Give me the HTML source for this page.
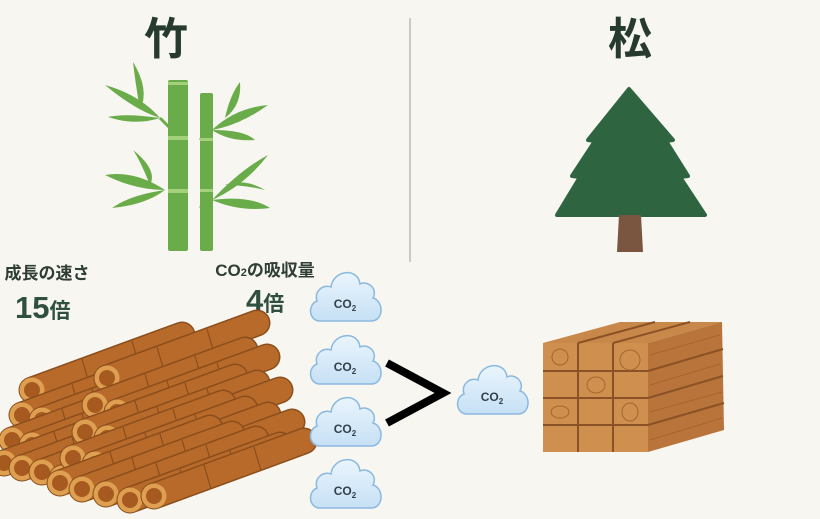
<!DOCTYPE html>
<html><head><meta charset="utf-8"><style>
html,body{margin:0;padding:0;background:#f8f6f1;}
svg{display:block}
text{font-family:"Liberation Sans","Noto Sans CJK JP",sans-serif;font-weight:bold}
</style></head><body>
<svg width="820" height="519" viewBox="0 0 820 519" xmlns="http://www.w3.org/2000/svg">
<defs>
<linearGradient id="cg" x1="0" y1="0" x2="0" y2="1"><stop offset="0" stop-color="#eaf5fd"/><stop offset="1" stop-color="#c6e0f5"/></linearGradient>
<g id="cloud"><path d="M12,56 C1,56 -1,40 9,36 C6,26 15,19 23,22 C25,5 50,2 52,19 C60,15 70,24 65,33 C76,36 76,56 63,56 Z" fill="url(#cg)" stroke="#8ab9df" stroke-width="1.5"/></g>
<g id="log"><line x1="0" y1="0" x2="150" y2="-55" stroke="#8a4e1c" stroke-width="27" stroke-linecap="round"/><line x1="0" y1="0" x2="150" y2="-55" stroke="#b86a2b" stroke-width="24" stroke-linecap="round"/><line x1="50" y1="-31" x2="57" y2="-7" stroke="#8a4e1c" stroke-width="1.2"/><line x1="100" y1="-49" x2="107" y2="-25" stroke="#8a4e1c" stroke-width="1.2"/><circle r="12.5" fill="#dea050"/><circle r="8" fill="#a65a1f"/></g>
</defs>
<rect width="820" height="519" fill="#f8f6f1"/>
<line x1="410" y1="18" x2="410" y2="262" stroke="#c9c9c6" stroke-width="2"/>
<text x="166" y="54" font-size="44" text-anchor="middle" fill="#263a2e">竹</text>
<text x="630" y="54" font-size="44" text-anchor="middle" fill="#263a2e">松</text>
<!-- bamboo -->
<g fill="#6aab4a">
<path d="M160,118 Q140,95 105,85 Q135,110 160,118Z"/>
<path d="M160,118 Q125,113 108,117 Q135,126 160,118Z"/>
<path d="M170,128 L160,118" stroke="#6aab4a" stroke-width="3"/>
<path d="M140,110 Q135,80 133,62 Q150,90 140,110Z"/>
<path d="M165,190 Q135,170 105,175 Q135,190 165,190Z"/>
<path d="M165,190 Q130,195 112,208 Q145,205 165,190Z"/>
<path d="M150,185 Q140,160 133,150 Q158,170 150,185Z"/>
<path d="M212,130 Q235,108 268,105 Q240,125 212,130Z"/>
<path d="M212,130 Q245,130 255,140 Q230,142 212,130Z"/>
<path d="M225,118 Q230,95 240,82 Q242,105 225,118Z"/>
<path d="M212,200 Q240,170 268,155 Q245,185 212,200Z"/>
<path d="M212,200 Q250,195 270,208 Q240,212 212,200Z"/>
<path d="M225,185 Q245,185 265,190 Q245,178 225,185Z"/>
<path d="M212,130 L200,140 M212,200 L200,208" stroke="#6aab4a" stroke-width="3"/>
<rect x="168" y="80" width="20" height="171" rx="2"/>
<rect x="200" y="93" width="13" height="158" rx="2"/>
</g>
<g fill="#a5d07b"><rect x="168" y="82" width="20" height="3"/><rect x="168" y="136" width="20" height="4"/><rect x="168" y="189" width="20" height="4"/><rect x="200" y="138" width="13" height="3"/><rect x="200" y="189" width="13" height="3"/></g>
<!-- tree -->
<path d="M629,89 L673,140 L666,141 L688,176 L680,177 L705,215 L557,215 L580,177 L572,176 L595,141 L588,140 Z" fill="#2e6440" stroke="#2e6440" stroke-width="4" stroke-linejoin="round"/>
<path d="M619,215 L641,215 L643,252 L617,252 Z" fill="#7a5540"/>
<!-- labels -->
<text x="47" y="279" font-size="17" text-anchor="middle" fill="#2f3e35">成長の速さ</text>
<text x="15" y="318" font-size="31" fill="#2f5040">15<tspan font-size="21">倍</tspan></text>
<text x="265" y="276" font-size="17" text-anchor="middle" fill="#2f3e35">CO<tspan font-size="11">2</tspan>の吸収量</text>
<text x="246" y="311" font-size="31" fill="#2f5040">4<tspan font-size="21">倍</tspan></text>
<!-- logs pile A (back left) -->
<g>
<use href="#log" x="32" y="390"/>
<use href="#log" x="22" y="415"/><use href="#log" x="42" y="420"/>
<use href="#log" x="12" y="440"/><use href="#log" x="32" y="445"/><use href="#log" x="52" y="450"/>
<use href="#log" x="4" y="463"/><use href="#log" x="22" y="468"/><use href="#log" x="42" y="472"/><use href="#log" x="62" y="478"/>
</g>
<!-- pile B -->
<g>
<use href="#log" x="107" y="378"/>
<use href="#log" x="95" y="405"/><use href="#log" x="117" y="412"/>
<use href="#log" x="85" y="432"/><use href="#log" x="107" y="438"/><use href="#log" x="130" y="445"/>
<use href="#log" x="73" y="458"/><use href="#log" x="95" y="464"/><use href="#log" x="118" y="470"/><use href="#log" x="142" y="477"/>
<use href="#log" x="60" y="483"/><use href="#log" x="82" y="489"/><use href="#log" x="106" y="494"/><use href="#log" x="130" y="500"/><use href="#log" x="154" y="496"/>
</g>
<!-- clouds -->
<g font-size="12" fill="#34404a" text-anchor="middle">
<use href="#cloud" x="308" y="265"/><text x="345" y="308">CO<tspan font-size="8" dy="3">2</tspan></text>
<use href="#cloud" x="308" y="328"/><text x="345" y="371">CO<tspan font-size="8" dy="3">2</tspan></text>
<use href="#cloud" x="308" y="390"/><text x="345" y="433">CO<tspan font-size="8" dy="3">2</tspan></text>
<use href="#cloud" x="308" y="452"/><text x="345" y="495">CO<tspan font-size="8" dy="3">2</tspan></text>
<use href="#cloud" x="455" y="358"/><text x="492" y="401">CO<tspan font-size="8" dy="3">2</tspan></text>
</g>
<path d="M387,363 L443,393 L387,423" fill="none" stroke="#000" stroke-width="8"/>
<!-- timber -->
<path d="M543,343 L620,322 L722,322 L648,343 Z" fill="#c88849"/>
<path d="M648,343 L722,322 L724,430 L648,452 Z" fill="#b8743a"/>
<rect x="543" y="343" width="105" height="109" fill="#cf8f4e"/>
<g stroke="#8a5226" stroke-width="2" fill="none">
<line x1="578" y1="343" x2="578" y2="452"/><line x1="613" y1="343" x2="613" y2="452"/>
<line x1="543" y1="371" x2="648" y2="371"/><line x1="543" y1="398" x2="648" y2="398"/><line x1="543" y1="425" x2="648" y2="425"/>
<line x1="648" y1="371" x2="723" y2="349"/><line x1="648" y1="398" x2="723" y2="376"/><line x1="648" y1="425" x2="724" y2="403"/>
<line x1="578" y1="343" x2="655" y2="322"/><line x1="613" y1="343" x2="690" y2="322"/>
</g>
<g stroke="#a4652f" stroke-width="1" fill="none">
<ellipse cx="560" cy="357" rx="8" ry="8"/><ellipse cx="630" cy="360" rx="10" ry="10"/><ellipse cx="596" cy="385" rx="9" ry="8"/><ellipse cx="630" cy="412" rx="8" ry="9"/><ellipse cx="560" cy="412" rx="9" ry="6"/>
<path d="M650,355 L720,335 M650,385 L720,364 M650,412 L722,392 M650,440 L722,418"/>
</g>
</svg>
</body></html>
